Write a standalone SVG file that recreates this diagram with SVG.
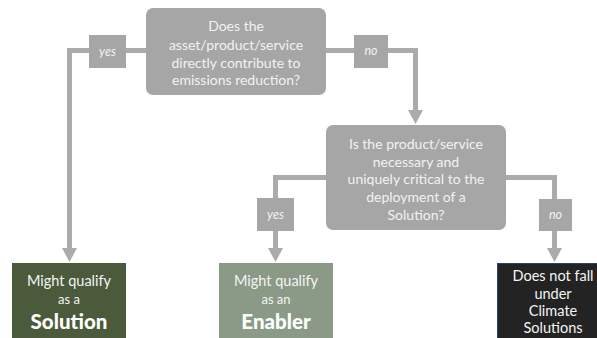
<svg xmlns="http://www.w3.org/2000/svg" width="597" height="338" viewBox="0 0 597 338">
  <defs>
    <style>
      .wire { fill: none; stroke: #ababab; stroke-width: 5; }
      .head { fill: #ababab; }
      .question { fill: #a6a6a6; }
      .tag { fill: #a6a6a6; }
      .qtext { font-family: Lato, "Liberation Sans", sans-serif; font-size: 14px; fill: #f2f2f2; text-anchor: middle; }
      .tagtext { font-family: Lato, "Liberation Sans", sans-serif; font-size: 12.5px; font-style: italic; fill: #f2f2f2; text-anchor: middle; }
      .otext { font-family: Lato, "Liberation Sans", sans-serif; font-size: 14.5px; fill: #f4f4f4; text-anchor: middle; }
      .small { font-size: 13px; }
      .big { font-family: Lato, "Liberation Sans", sans-serif; font-size: 20.5px; font-weight: 900; fill: #ffffff; text-anchor: middle; }
    </style>
  </defs>

  <rect width="597" height="338" fill="#ffffff"/>

  <!-- connectors -->
  <g id="connectors">
    <polyline class="wire" points="146,50.5 69.5,50.5 69.5,249"/>
    <polygon class="head" points="62,248 77,248 69.5,262"/>

    <polyline class="wire" points="326,50.5 415.5,50.5 415.5,111"/>
    <polygon class="head" points="408,110 423,110 415.5,124"/>

    <polyline class="wire" points="326,177.5 275.5,177.5 275.5,249"/>
    <polygon class="head" points="268,248 283,248 275.5,262"/>

    <polyline class="wire" points="506,177.5 554.5,177.5 554.5,249"/>
    <polygon class="head" points="547,248 562,248 554.5,262"/>

    <g id="label-yes-1">
      <rect class="tag" x="89" y="35" width="37" height="33"/>
      <text class="tagtext" x="107.5" y="56">yes</text>
    </g>
    <g id="label-no-1">
      <rect class="tag" x="354" y="35" width="34" height="33"/>
      <text class="tagtext" x="371" y="55">no</text>
    </g>
    <g id="label-yes-2">
      <rect class="tag" x="257" y="198" width="37" height="33"/>
      <text class="tagtext" x="275.5" y="219">yes</text>
    </g>
    <g id="label-no-2">
      <rect class="tag" x="539" y="199" width="33" height="32"/>
      <text class="tagtext" x="555.5" y="219">no</text>
    </g>
  </g>

  <!-- first question -->
  <g id="q-direct">
    <rect class="question" x="146" y="8" width="180" height="87" rx="7"/>
    <text class="qtext" x="236" y="30.5">Does the</text>
    <text class="qtext" x="236" y="50">asset/product/service</text>
    <text class="qtext" x="236" y="67.5">directly contribute to</text>
    <text class="qtext" x="236" y="85">emissions reduction?</text>
  </g>

  <!-- second question -->
  <g id="q-enabler">
    <rect class="question" x="326" y="125" width="180" height="105" rx="7"/>
    <text class="qtext" x="416" y="148.5">Is the product/service</text>
    <text class="qtext" x="416" y="166.5">necessary and</text>
    <text class="qtext" x="416" y="184">uniquely critical to the</text>
    <text class="qtext" x="416" y="202">deployment of a</text>
    <text class="qtext" x="416" y="219.5">Solution?</text>
  </g>

  <!-- outcomes -->
  <g id="out-solution">
    <rect x="12" y="263" width="114" height="75" fill="#4a5a3b"/>
    <text class="otext" x="69" y="286">Might qualify</text>
    <text class="otext small" x="69" y="304">as a</text>
    <text class="big" x="69" y="329">Solution</text>
  </g>

  <g id="out-enabler">
    <rect x="219" y="263" width="114" height="75" fill="#8b9987"/>
    <text class="otext" x="276" y="286">Might qualify</text>
    <text class="otext small" x="276" y="304">as an</text>
    <text class="big" x="276" y="329">Enabler</text>
  </g>

  <g id="out-none">
    <rect x="497.5" y="263.5" width="101" height="76" fill="#232323" stroke="#2c4468" stroke-width="1"/>
    <text class="otext" x="553" y="281">Does not fall</text>
    <text class="otext" x="553" y="299">under</text>
    <text class="otext" x="553" y="316">Climate</text>
    <text class="otext" x="553" y="333">Solutions</text>
  </g>
</svg>
